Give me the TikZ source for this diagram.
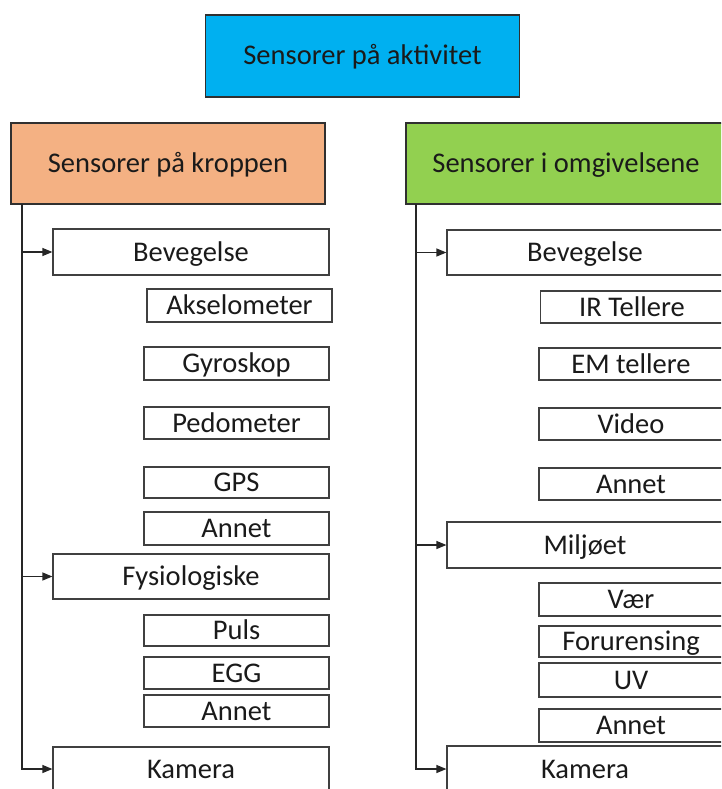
\documentclass[tikz,border=0pt]{standalone}
\usepackage{fontspec}
\setmainfont{Carlito}
\usetikzlibrary{arrows.meta}
\definecolor{topblue}{HTML}{00B0F0}
\definecolor{bodyorange}{HTML}{F4B183}
\definecolor{envgreen}{HTML}{92D050}
\definecolor{boxline}{HTML}{404040}
\definecolor{headline}{HTML}{303030}
\definecolor{txt}{HTML}{1A1A1A}
\begin{document}
\begin{tikzpicture}[x=1pt,y=-1pt,
  box/.style={draw=boxline, line width=1.2pt, fill=white, inner sep=0pt,
    text=txt, font=\fontsize{28.5}{34}\selectfont,
    text height=18pt, text depth=0pt, align=center},
  head/.style={box, draw=headline},
  wide/.style={box, minimum width=276pt, minimum height=46pt},
  small/.style={box, minimum width=185pt, minimum height=32pt},
  conn/.style={draw=black!85, line width=1.2pt, -{Triangle[length=10pt,width=8pt]}}]
\useasboundingbox (0,0) rectangle (721,789);
\clip (0,0) rectangle (721,789);

% headers
\node[head, fill=topblue, minimum width=314pt, minimum height=82pt] (top) at (362.5,56) {Sensorer på aktivitet};
\node[head, fill=bodyorange, minimum width=314pt, minimum height=81pt] (lh) at (168,163.5) {Sensorer på kroppen};
\node[head, fill=envgreen, minimum width=320pt, minimum height=81pt] (rh) at (566,163.5) {Sensorer i omgivelsene};

% body sensors
\node[wide] (lbev) at (191,252) {Bevegelse};
\node[small, minimum height=33pt] (laks) at (239.5,305.5) {Akselometer};
\node[small, minimum height=33pt] (lgyr) at (236.5,363.5) {Gyroskop};
\node[small] (lped) at (236.5,423) {Pedometer};
\node[small, minimum height=31pt] (lgps) at (236.5,482.5) {GPS};
\node[small, minimum height=33pt] (lann1) at (236.5,528.5) {Annet};
\node[wide, minimum height=45pt] (lfys) at (191,576.5) {Fysiologiske};
\node[small, minimum height=31pt] (lpul) at (236.5,630.5) {Puls};
\node[small] (legg) at (236.5,673) {EGG};
\node[small] (lann2) at (236.5,711) {Annet};
\node[wide, minimum height=44pt] (lkam) at (191,769) {Kamera};

% environment sensors
\node[wide, minimum height=45pt] (rbev) at (585,252.5) {Bevegelse};
\node[small, minimum width=183pt] (rir) at (632,307) {IR Tellere};
\node[small, minimum width=184pt] (rem) at (631,364) {EM tellere};
\node[small, minimum width=184pt] (rvid) at (631,424) {Video};
\node[small, minimum width=184pt] (rann1) at (631,484) {Annet};
\node[wide] (rmil) at (585,545) {Miljøet};
\node[small, minimum width=184pt, minimum height=33pt] (rvar) at (631,599.5) {Vær};
\node[small, minimum width=184pt, minimum height=31pt] (rfor) at (631,641.5) {Forurensing};
\node[small, minimum width=184pt, minimum height=34pt] (ruv) at (631,680) {UV};
\node[small, minimum width=184pt, minimum height=33pt] (rann2) at (631,725.5) {Annet};
\node[wide] (rkam) at (585,769) {Kamera};

% trunks and branches
\coordinate (lt) at (22,204);
\coordinate (rt) at (416,204);
\draw[conn] (lt) |- (lkam.west);
\draw[conn] (lt |- lbev.west) -- (lbev.west);
\draw[conn] (lt |- lfys.west) -- (lfys.west);
\draw[conn] (rt) |- (rkam.west);
\draw[conn] (rt |- rbev.west) -- (rbev.west);
\draw[conn] (rt |- rmil.west) -- (rmil.west);
\end{tikzpicture}
\end{document}
